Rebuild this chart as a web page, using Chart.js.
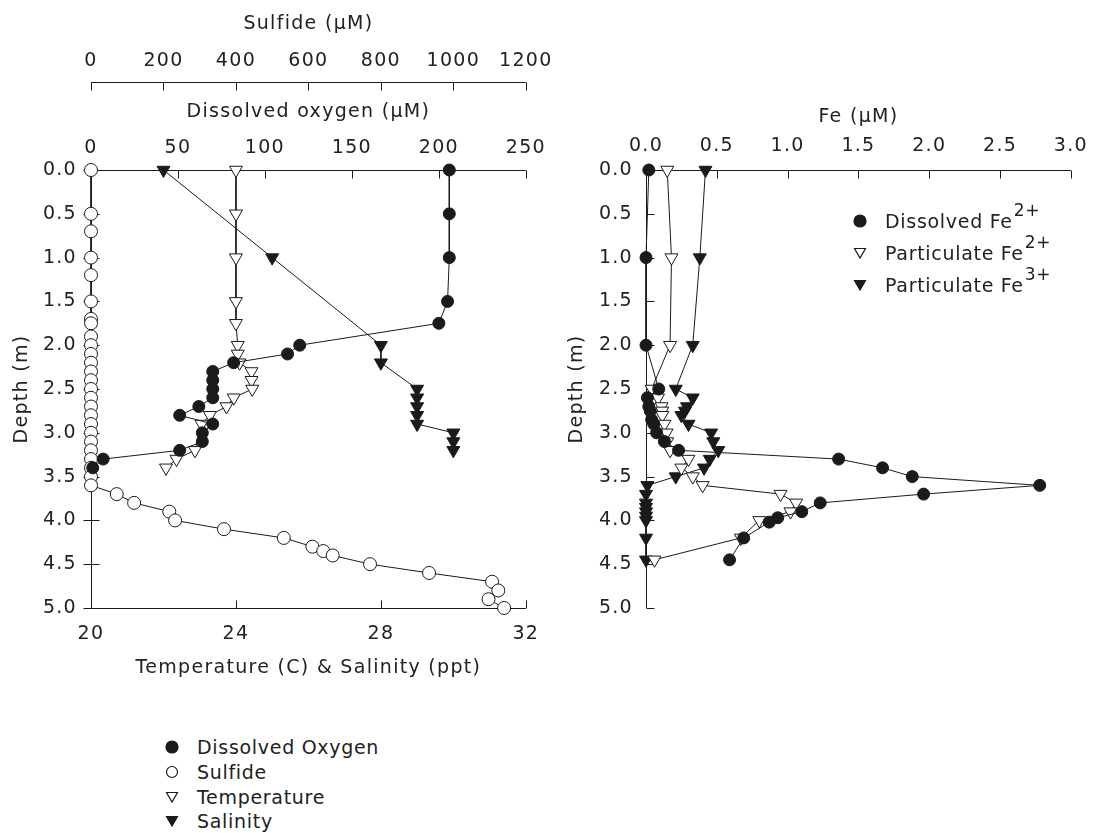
<!DOCTYPE html>
<html>
<head>
<meta charset="utf-8">
<script src="https://cdn.jsdelivr.net/npm/chart.js@4"></script>
<style>
  html, body { margin: 0; padding: 0; background: #fff; }
  body { width: 1099px; height: 833px; position: relative; overflow: hidden;
         font-family: 'DejaVu Sans', sans-serif; color: #222; }
  canvas { position: absolute; top: 0; }
  #left { left: 0; }
  #right { left: 560px; }
  .legend { position: absolute; font-size: 19px; letter-spacing: 0.7px; }
  .legend .row { display: flex; align-items: center; white-space: nowrap; }
  .legend svg { flex: none; }
  .legend .sup { font-size: 17px; position: relative; top: -12px; margin-left: 1px; }
</style>
</head>
<body>
<canvas id="left" width="560" height="700"></canvas>
<canvas id="right" width="539" height="700"></canvas>

<div class="legend" id="legLeft" style="left:165px; top:735px;"></div>
<div class="legend" id="legRight" style="left:853px; top:205px;"></div>

<script>
// ---- left panel data (depth in m) ----
const o2Depth = [0, 0.5, 1.0, 1.5, 1.75, 2.0, 2.1, 2.2, 2.3, 2.4, 2.5, 2.6, 2.7, 2.8, 2.9, 3.0, 3.1, 3.2, 3.3, 3.4];
const o2Value = [206, 206, 206, 205, 200, 120, 113, 82, 70, 70, 70, 70, 62, 51, 70, 64, 64, 51, 7, 1];

const sulfDepth = [0, 0.5, 0.7, 1.0, 1.2, 1.5, 1.7, 1.75, 1.9, 2.0, 2.1, 2.2, 2.3, 2.4, 2.5, 2.6, 2.7, 2.8,
                   2.9, 3.0, 3.1, 3.2, 3.3, 3.4, 3.5, 3.6, 3.7, 3.8, 3.9, 4.0, 4.1, 4.2, 4.3, 4.35, 4.4,
                   4.5, 4.6, 4.7, 4.8, 4.9, 5.0];
const sulfValue = [0, 0, 0, 0, 0, 0, 0, 0, 0, 0, 0, 0, 0, 0, 0, 0, 0, 0,
                   0, 0, 0, 0, 0, 0, 0, 0, 71, 119, 216, 232, 367, 532, 611, 641, 667,
                   770, 933, 1107, 1124, 1097, 1140];

const tempDepth = [0, 0.5, 1.0, 1.5, 1.75, 2.0, 2.1, 2.2, 2.3, 2.4, 2.5, 2.6, 2.7, 2.8, 2.9, 3.2, 3.3, 3.4];
const tempValue = [24.0, 24.0, 24.0, 24.0, 24.0, 24.05, 24.05, 24.1, 24.43, 24.43, 24.45, 23.94, 23.74, 23.28, 23.05, 22.87, 22.36, 22.07];

const salDepth = [0, 1.0, 2.0, 2.2, 2.5, 2.6, 2.7, 2.8, 2.9, 3.0, 3.1, 3.2];
const salValue = [22.0, 25.0, 28.0, 28.0, 29.0, 29.0, 29.0, 29.0, 29.0, 30.0, 30.0, 30.0];

// ---- right panel data ----
const feDisDepth = [0, 1.0, 2.0, 2.5, 2.6, 2.7, 2.75, 2.85, 2.9, 3.0, 3.1, 3.2, 3.3, 3.4, 3.5, 3.6, 3.7, 3.8, 3.9, 3.97, 4.02, 4.2, 4.45];
const feDisValue = [0.02, 0.0, 0.0, 0.09, 0.01, 0.02, 0.03, 0.04, 0.055, 0.075, 0.13, 0.23, 1.36, 1.67, 1.88, 2.78, 1.96, 1.23, 1.10, 0.93, 0.87, 0.69, 0.59];

const fe2Depth = [0, 1.0, 2.0, 2.5, 2.6, 2.7, 2.75, 2.8, 2.9, 3.0, 3.1, 3.2, 3.3, 3.4, 3.5, 3.6, 3.7, 3.8, 3.9, 4.0, 4.2, 4.45];
const fe2Value = [0.15, 0.18, 0.17, 0.04, 0.085, 0.11, 0.115, 0.115, 0.13, 0.145, 0.15, 0.17, 0.30, 0.25, 0.33, 0.40, 0.95, 1.06, 1.02, 0.80, 0.67, 0.06];

const fe3Depth = [0, 1.0, 2.0, 2.5, 2.6, 2.7, 2.75, 2.8, 2.9, 3.0, 3.1, 3.2, 3.3, 3.4, 3.5, 3.6, 3.7, 3.8, 3.85, 3.9, 3.95, 4.0, 4.2, 4.45];
const fe3Value = [0.42, 0.38, 0.33, 0.21, 0.33, 0.29, 0.275, 0.25, 0.30, 0.46, 0.475, 0.51, 0.45, 0.41, 0.21, 0.01, 0, 0, 0, 0, 0, 0, 0, 0];

const ink = '#1a1a1a';
Chart.defaults.font.family = "'DejaVu Sans', sans-serif";
Chart.defaults.font.size = 19;
Chart.defaults.color = '#222';

function pts(depths, values) {
    return depths.map((d, i) => ({ x: values[i], y: d }));
}

function series(label, depths, values, axis, shape, filled, r) {
    return {
        label,
        data: pts(depths, values),
        xAxisID: axis,
        yAxisID: 'y',
        showLine: true,
        borderColor: ink,
        borderWidth: 1,
        pointStyle: shape,
        pointRotation: shape === 'triangle' ? 180 : 0,
        pointRadius: r,
        pointBackgroundColor: filled ? ink : '#fff',
        pointBorderColor: ink,
        pointBorderWidth: 1,
        clip: false
    };
}

// wider tracking, closer to the plotter lettering of the original
const spacing = {
    id: 'spacing',
    beforeDraw(chart) { chart.ctx.letterSpacing = '1.3px'; }
};

// axis lines and inward tick marks, drawn from the chart's own scales
const frame = {
    id: 'frame',
    beforeDatasetsDraw(chart, args, opts) {
        const ctx = chart.ctx;
        ctx.save();
        ctx.strokeStyle = ink;
        ctx.lineWidth = 1;
        ctx.beginPath();
        opts.axes.forEach(a => {
            const s = chart.scales[a.id];
            if (s.isHorizontal()) {
                const y = (s.options.position === 'top' ? s.bottom : s.top);
                const dir = s.options.position === 'top' ? 1 : -1;
                const yy = Math.round(y) + 0.5;
                ctx.moveTo(s.getPixelForValue(s.min), yy);
                ctx.lineTo(s.getPixelForValue(s.max), yy);
                s.ticks.forEach(t => {
                    const x = Math.round(s.getPixelForValue(t.value)) + 0.5;
                    ctx.moveTo(x, yy - dir * a.out);
                    ctx.lineTo(x, yy + dir * a.inn);
                });
            } else {
                const xx = Math.round(s.right) + 0.5;
                ctx.moveTo(xx, s.getPixelForValue(s.min));
                ctx.lineTo(xx, s.getPixelForValue(s.max));
                s.ticks.forEach(t => {
                    const y = Math.round(s.getPixelForValue(t.value)) + 0.5;
                    ctx.moveTo(xx - a.out, y);
                    ctx.lineTo(xx + a.inn, y);
                });
            }
        });
        ctx.stroke();
        ctx.restore();
    }
};

function depthAxis(width, pad, titlePad) {
    return {
        type: 'linear', position: 'left', reverse: true, min: 0, max: 5,
        afterFit: s => { s.width = width; },
        grid: { display: false, drawTicks: false }, border: { display: false },
        ticks: { stepSize: 0.5, padding: pad, autoSkip: false, callback: v => v.toFixed(1) },
        title: { display: true, text: 'Depth (m)', padding: { top: titlePad, bottom: 0 } }
    };
}

function hAxis(pos, min, max, step, height, pad, title, titlePad, weight, fmt) {
    return {
        type: 'linear', position: pos, min, max, weight,
        afterFit: s => { s.height = height; },
        grid: { display: false, drawTicks: false }, border: { display: false },
        ticks: { stepSize: step, padding: pad, autoSkip: false, maxRotation: 0, callback: fmt },
        title: { display: true, text: title, padding: titlePad }
    };
}

new Chart(document.getElementById('left'), {
    type: 'scatter',
    plugins: [spacing, frame],
    data: {
        datasets: [
            series('Dissolved Oxygen', o2Depth, o2Value, 'xO2', 'circle', true, 6),
            series('Sulfide', sulfDepth, sulfValue, 'xSulf', 'circle', false, 6.5),
            series('Temperature', tempDepth, tempValue, 'xTS', 'triangle', false, 7.5),
            series('Salinity', salDepth, salValue, 'xTS', 'triangle', true, 7.5)
        ]
    },
    options: {
        responsive: false, animation: false, events: [],
        layout: { padding: { left: 0, top: 0, right: 32, bottom: 0 } },
        plugins: {
            legend: { display: false }, tooltip: { enabled: false },
            frame: { axes: [
                { id: 'xSulf', inn: 8, out: 0 },
                { id: 'xO2', inn: 8, out: 0 },
                { id: 'xTS', inn: 8, out: 0 },
                { id: 'y', inn: 8, out: 8 }
            ] }
        },
        scales: {
            y: depthAxis(91, 14, 10.6),
            xO2: hAxis('top', 0, 250, 50, 88, 11, 'Dissolved oxygen (\u00b5M)', { top: 18.6, bottom: 0 }, 0, v => String(v)),
            xSulf: hAxis('top', 0, 1200, 200, 82, 10, 'Sulfide (\u00b5M)', { top: 12.6, bottom: 0 }, 1, v => String(v)),
            xTS: hAxis('bottom', 20, 32, 4, 92, 15, 'Temperature (C) & Salinity (ppt)', { top: 0, bottom: 20.6 }, 0, v => String(v))
        }
    }
});

new Chart(document.getElementById('right'), {
    type: 'scatter',
    plugins: [spacing, frame],
    data: {
        datasets: [
            series('Dissolved Fe2+', feDisDepth, feDisValue, 'xFe', 'circle', true, 6),
            series('Particulate Fe2+', fe2Depth, fe2Value, 'xFe', 'triangle', false, 7.5),
            series('Particulate Fe3+', fe3Depth, fe3Value, 'xFe', 'triangle', true, 7.5)
        ]
    },
    options: {
        responsive: false, animation: false, events: [],
        layout: { padding: { left: 0, top: 0, right: 18, bottom: 92 } },
        plugins: {
            legend: { display: false }, tooltip: { enabled: false },
            frame: { axes: [
                { id: 'xFe', inn: 8, out: 0 },
                { id: 'y', inn: 8, out: 0 }
            ] }
        },
        scales: {
            y: depthAxis(86, 13, 5.6),
            xFe: hAxis('top', 0, 3, 0.5, 170, 13, 'Fe (\u00b5M)', { top: 105.6, bottom: 0 }, 0, v => v.toFixed(1))
        }
    }
});

// legends (html text, small svg markers)
function marker(shape, filled) {
    const fill = filled ? ink : '#fff';
    if (shape === 'circle') {
        return `<svg width="14" height="14"><circle cx="7" cy="7" r="${filled ? 6 : 5.5}" fill="${fill}" stroke="${ink}" stroke-width="1.2"/></svg>`;
    }
    return `<svg width="14" height="14"><polygon points="1.5,2.5 12.5,2.5 7,12" fill="${fill}" stroke="${ink}" stroke-width="1.2"/></svg>`;
}

const leftLegend = [
    ['circle', true, 'Dissolved Oxygen'],
    ['circle', false, 'Sulfide'],
    ['triangle', false, 'Temperature'],
    ['triangle', true, 'Salinity']
];
const rightLegend = [
    ['circle', true, 'Dissolved Fe', '2+'],
    ['triangle', false, 'Particulate Fe', '2+'],
    ['triangle', true, 'Particulate Fe', '3+']
];

document.getElementById('legLeft').innerHTML = leftLegend.map(([s, f, t]) =>
    `<div class="row" style="height:24.7px">${marker(s, f)}<span style="margin-left:18px">${t}</span></div>`).join('');
document.getElementById('legRight').innerHTML = rightLegend.map(([s, f, t, sup]) =>
    `<div class="row" style="height:32px">${marker(s, f)}<span style="margin-left:18px">${t}<span class="sup">${sup}</span></span></div>`).join('');
</script>
</body>
</html>
